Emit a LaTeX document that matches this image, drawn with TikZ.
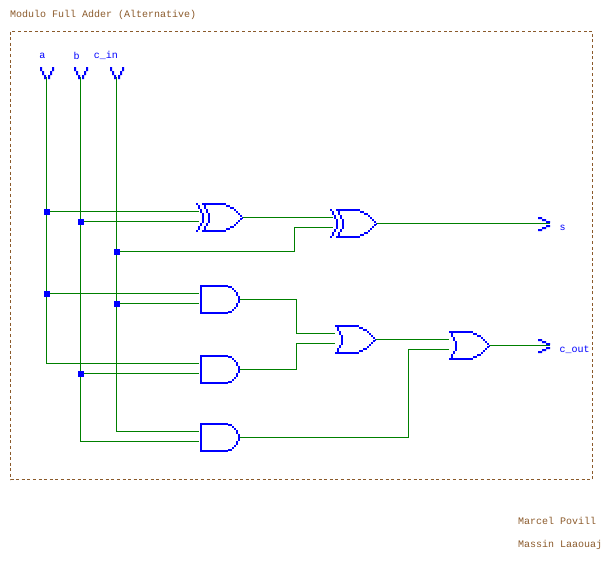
\documentclass[tikz,border=0pt]{standalone}
\usepackage{fontspec}
\usetikzlibrary{backgrounds}
\setmainfont{Liberation Mono}
\definecolor{wirec}{HTML}{008000}
\definecolor{gatec}{HTML}{0000FF}
\definecolor{notec}{HTML}{8B5A2B}
\newcommand{\mirblocks}[1]{\foreach \a/\b/\c/\d in {#1}{%
  \fill[gatec] (\a,\b) rectangle (\c,\d);
  \fill[gatec] (\a,-\b) rectangle (\c,-\d);}}
\tikzset{
  wire/.style={draw=wirec,line width=1pt},
  frameline/.style={draw=notec,line width=1.2pt,dash pattern=on 3pt off 2.6pt},
  junction/.style={fill=gatec,draw=none,rectangle,minimum size=6pt,inner sep=0pt,outer sep=0pt},
  pinlabel/.style={text=gatec,font=\fontsize{10}{12}\selectfont,inner sep=0pt,outer sep=0pt},
  note/.style={text=notec,font=\fontsize{10}{12}\selectfont,inner sep=0pt,outer sep=0pt,anchor=west},
  andgate/.pic={
    \mirblocks{0/12.5/28/14.5,0/0/2/12.5,28/11.5/32/13.5,32/9.5/34/11.5,34/7.5/36/9.5,36/3.5/38/7.5,38/0/40/3.5}
    \coordinate (-in1) at (-1,-6);
    \coordinate (-in2) at (-1,4);
    \coordinate (-out) at (40,0);
  },
  orgate/.pic={
    \mirblocks{0/12.5/24/14.5,24/10.5/28/12.5,28/8.5/32/10.5,32/6.5/34/8.5,34/4.5/36/6.5,36/2.5/38/4.5,38/0.5/40/2.5,40/0/41/0.5,
      2/8.5/4/12.5,4/5/6/8.5,6/0/8/5}
    \coordinate (-in1) at (0,-6);
    \coordinate (-in2) at (0,4);
    \coordinate (-out) at (41,0);
  },
  xorgate/.pic={
    \mirblocks{0/12.5/24/14.5,24/10.5/28/12.5,28/8.5/32/10.5,32/6.5/34/8.5,34/4.5/36/6.5,36/2.5/38/4.5,38/0.5/40/2.5,40/0/41/0.5,
      2/8.5/4/12.5,4/5/6/8.5,6/0/8/5,
      -6/12.5/-4/14.5,-4/8.5/-2/12.5,-2/5/0/8.5,0/0/2/5}
    \coordinate (-in1) at (-3,-6);
    \coordinate (-in2) at (-3,4);
    \coordinate (-out) at (41,0);
  },
  inpin/.pic={
    \fill[gatec] (-6.5,0) rectangle (-4.5,4) (-4.5,4) rectangle (-2.5,8) (-2.5,8) rectangle (-0.5,12)
      (5.5,0) rectangle (7.5,4) (3.5,4) rectangle (5.5,8) (1.5,8) rectangle (3.5,12);
    \coordinate (-pin) at (0,10);
  },
  outpin/.pic={
    \fill[gatec] (-12,-6.5) rectangle (-8,-4.5) (-8,-4.5) rectangle (-4,-2.5) (-4,-2.5) rectangle (0,-0.5)
      (-4,1.5) rectangle (0,3.5) (-8,3.5) rectangle (-4,5.5) (-12,5.5) rectangle (-8,7.5);
    \coordinate (-pin) at (0,0);
  }
}
\begin{document}
\begin{tikzpicture}[x=1pt,y=-1pt]
\useasboundingbox (0,0) rectangle (609,565);
\node[note] (title) at (10,15) {Modulo Full Adder (Alternative)};
\draw[frameline] (10.5,31.5) rectangle (592.5,479.5);
\node[note] (auth1) at (518,521) {Marcel Povill};
\node[note] (auth2) at (518,545) {Massin Laaouaj};

\pic (a) at (46.5,67) {inpin};
\pic (b) at (80.5,67) {inpin};
\pic (c) at (116.5,67) {inpin};
\node[pinlabel] (la) at (42.5,55.5) {a};
\node[pinlabel] (lb) at (76.5,55.5) {b};
\node[pinlabel] (lc) at (106,55.5) {c\_in};

\pic (xa) at (202,217.5) {xorgate};
\pic (xb) at (336,223.5) {xorgate};
\pic (a1) at (200,299.5) {andgate};
\pic (a2) at (200,369.5) {andgate};
\pic (a3) at (200,437.5) {andgate};
\pic (o1) at (334.5,339.5) {orgate};
\pic (o2) at (448.5,345.5) {orgate};
\pic (s) at (550,223.5) {outpin};
\pic (co) at (550,345.5) {outpin};
\node[pinlabel,anchor=west] (ls) at (559.5,227.5) {s};
\node[pinlabel,anchor=west] (lco) at (559.5,349.5) {c\_out};

\node[junction] (ja1) at (a-pin |- xa-in1) {};
\node[junction] (ja2) at (a-pin |- a1-in1) {};
\node[junction] (jb1) at (b-pin |- xa-in2) {};
\node[junction] (jb2) at (b-pin |- a2-in2) {};
\coordinate (cy1) at (0,251.5);
\node[junction] (jc1) at (c-pin |- cy1) {};
\node[junction] (jc2) at (c-pin |- a1-in2) {};
\coordinate (bendx) at (294.5,0);
\coordinate (bendo) at (296.5,0);
\coordinate (benda) at (408,0);

\begin{scope}[on background layer]
\draw[wire] (a-pin) |- (a2-in1);
\draw[wire] (b-pin) |- (a3-in2);
\draw[wire] (c-pin) |- (a3-in1);
\draw[wire] (ja1.center) -- (xa-in1);
\draw[wire] (jb1.center) -- (xa-in2);
\draw[wire] (ja2.center) -- (a1-in1);
\draw[wire] (jc2.center) -- (a1-in2);
\draw[wire] (jb2.center) -- (a2-in2);
\draw[wire] (xa-out) -- (xb-in1);
\draw[wire] (jc1.center) -| (bendx |- xb-in2) -- (xb-in2);
\draw[wire] (xb-out) -- (s-pin);
\draw[wire] (a1-out) -| (bendo |- o1-in1) -- (o1-in1);
\draw[wire] (a2-out) -| (bendo |- o1-in2) -- (o1-in2);
\draw[wire] (o1-out) -- (o2-in1);
\draw[wire] (a3-out) -| (benda |- o2-in2) -- (o2-in2);
\draw[wire] (o2-out) -- (co-pin);
\end{scope}
\end{tikzpicture}
\end{document}
